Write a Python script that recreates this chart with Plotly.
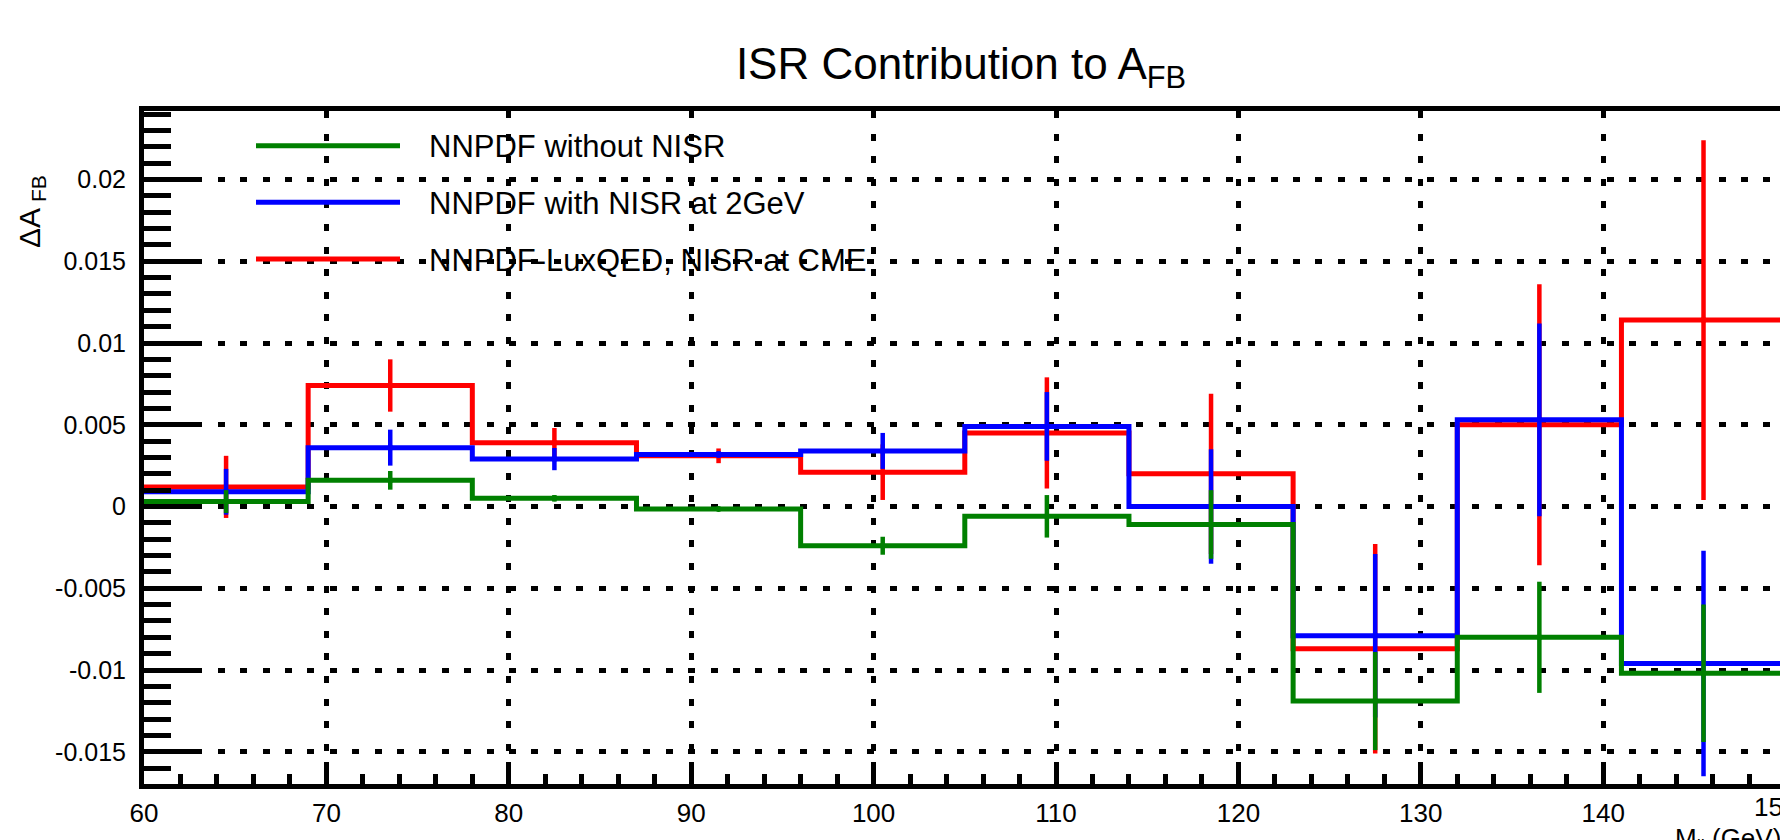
import plotly.graph_objects as go

# ---------------- data ----------------
bin_edges = [60, 69, 78, 87, 96, 105, 114, 123, 132, 141, 150]
bin_centers = [64.5, 73.5, 82.5, 91.5, 100.5, 109.5, 118.5, 127.5, 136.5, 145.5]

green_vals = [0.0003, 0.0016, 0.0005, -0.00015, -0.0024, -0.0006, -0.0011, -0.0119, -0.0080, -0.0102]
green_errs = [0.0007, 0.00057, 0.0002, 0.0001, 0.00055, 0.0013, 0.0021, 0.0030, 0.0034, 0.0042]

blue_vals = [0.0009, 0.0036, 0.0029, 0.00318, 0.0034, 0.0049, 0.0000, -0.0079, 0.0053, -0.0096]
blue_errs = [0.0014, 0.0011, 0.00068, 0.0002, 0.0011, 0.0021, 0.0035, 0.0050, 0.0059, 0.0069]

red_vals = [0.0012, 0.0074, 0.0039, 0.0031, 0.0021, 0.0045, 0.0020, -0.0087, 0.0050, 0.0114]
red_errs = [0.0019, 0.0016, 0.0009, 0.00045, 0.0017, 0.0034, 0.0049, 0.0064, 0.0086, 0.0110]

series_names = ["NNPDF without NISR", "NNPDF with NISR at 2GeV", "NNPDF-LuxQED, NISR at CME"]
series_colors = ["#008000", "#0000ff", "#ff0000"]

x_tick_vals = [60, 70, 80, 90, 100, 110, 120, 130, 140]
x_tick_text = ["60", "70", "80", "90", "100", "110", "120", "130", "140"]
y_tick_vals = [-0.015, -0.01, -0.005, 0, 0.005, 0.01, 0.015, 0.02]
y_tick_text = ["-0.015", "-0.01", "-0.005", "0", "0.005", "0.01", "0.015", "0.02"]
cut_tick_label = "150"

title_text = "ISR Contribution to A<sub>FB</sub>"
x_title = "M<sub>ll</sub> (GeV)"
y_title = "\u0394A<sub> FB</sub>"

# ---------------- layout geometry ----------------
W, H = 1780, 840
L, R, T, B = 144, 0, 111, 56
PW, PH = W - L - R, H - T - B
FONT = "Liberation Sans, Arial, Helvetica, sans-serif"
PX_PER_X = 18.24


def px_x(px):
    return (px - L) / PW


def px_y(py):
    return (H - B - py) / PH


fig = go.Figure()

all_series = [
    (red_vals, red_errs, series_colors[2]),
    (blue_vals, blue_errs, series_colors[1]),
    (green_vals, green_errs, series_colors[0]),
]
for vals, errs, col in all_series:
    fig.add_trace(go.Scatter(
        x=bin_edges, y=vals + [vals[-1]], mode="lines",
        line=dict(color=col, width=5, shape="hv"),
        showlegend=False, hoverinfo="skip"))
    fig.add_trace(go.Scatter(
        x=bin_centers, y=vals, mode="markers",
        marker=dict(size=0, color=col),
        error_y=dict(type="data", array=errs, visible=True, width=0,
                     thickness=4.5, color=col),
        showlegend=False, hoverinfo="skip"))

# legend (drawn by hand, ROOT style)
leg_y = [145.7, 202.3, 259.0]
shapes = []
annotations = []
for name, col, yy in zip(series_names, series_colors, leg_y):
    shapes.append(dict(type="line", xref="paper", yref="paper",
                       x0=px_x(256), x1=px_x(400), y0=px_y(yy), y1=px_y(yy),
                       line=dict(color=col, width=5)))
    annotations.append(dict(xref="paper", yref="paper", x=px_x(427), y=px_y(yy + 1),
                            xanchor="left", yanchor="middle", showarrow=False,
                            text=name, font=dict(family=FONT, size=31, color="black")))

# axis titles
annotations.append(dict(xref="paper", yref="paper", x=px_x(31), y=px_y(212),
                        xanchor="center", yanchor="middle", showarrow=False,
                        textangle=-90, text=y_title,
                        font=dict(family=FONT, size=30, color="black")))
annotations.append(dict(xref="paper", yref="paper", x=px_x(1673), y=px_y(821),
                        xanchor="left", yanchor="top", showarrow=False,
                        text=x_title, font=dict(family=FONT, size=26, color="black")))
# partially visible last tick label at the cut right edge (x = 150)
annotations.append(dict(xref="paper", yref="paper", x=px_x(L + (150 - 60) * PX_PER_X - 10),
                        y=px_y(790), xanchor="center", yanchor="top", showarrow=False,
                        text=cut_tick_label, font=dict(family=FONT, size=26, color="black")))

x_min = 60
x_max = 60 + PW / PX_PER_X
y_max = (506.5 - T) / 16350
y_min = (506.5 - (H - B)) / 16350

fig.update_layout(
    width=W, height=H,
    margin=dict(l=L, r=R, t=T, b=B, pad=0),
    paper_bgcolor="white", plot_bgcolor="white",
    font=dict(family=FONT, color="black"),
    title=dict(text=title_text, x=961 / W, xanchor="center", xref="container",
               y=1 - 48 / H, yanchor="top", yref="container",
               font=dict(family=FONT, size=44, color="black")),
    shapes=shapes, annotations=annotations,
    showlegend=False,
)

fig.update_xaxes(
    range=[x_min, x_max], tickmode="array", tickvals=x_tick_vals, ticktext=x_tick_text,
    ticks="inside", ticklen=22, tickwidth=5, tickcolor="black",
    tickfont=dict(family=FONT, size=26, color="black"), ticklabelstandoff=2,
    showline=True, linewidth=5, linecolor="black", mirror=True,
    showgrid=True, gridcolor="black", gridwidth=4.5, griddash="7px,15.6px",
    zeroline=False,
    minor=dict(tick0=60, dtick=2, ticks="inside", ticklen=10, tickwidth=5,
               tickcolor="black", showgrid=False),
)
fig.update_yaxes(
    range=[y_min, y_max], tickmode="array", tickvals=y_tick_vals, ticktext=y_tick_text,
    ticks="inside", ticklen=52, tickwidth=5, tickcolor="black",
    tickfont=dict(family=FONT, size=25, color="black"), ticklabelstandoff=8,
    showline=True, linewidth=5, linecolor="black", mirror=False,
    showgrid=True, gridcolor="black", gridwidth=4.5, griddash="0px,6.6px,7px,8.8px",
    zeroline=False,
    minor=dict(tick0=0, dtick=0.001, ticks="inside", ticklen=27, tickwidth=5,
               tickcolor="black", showgrid=False),
)

fig.write_html("out.html")
